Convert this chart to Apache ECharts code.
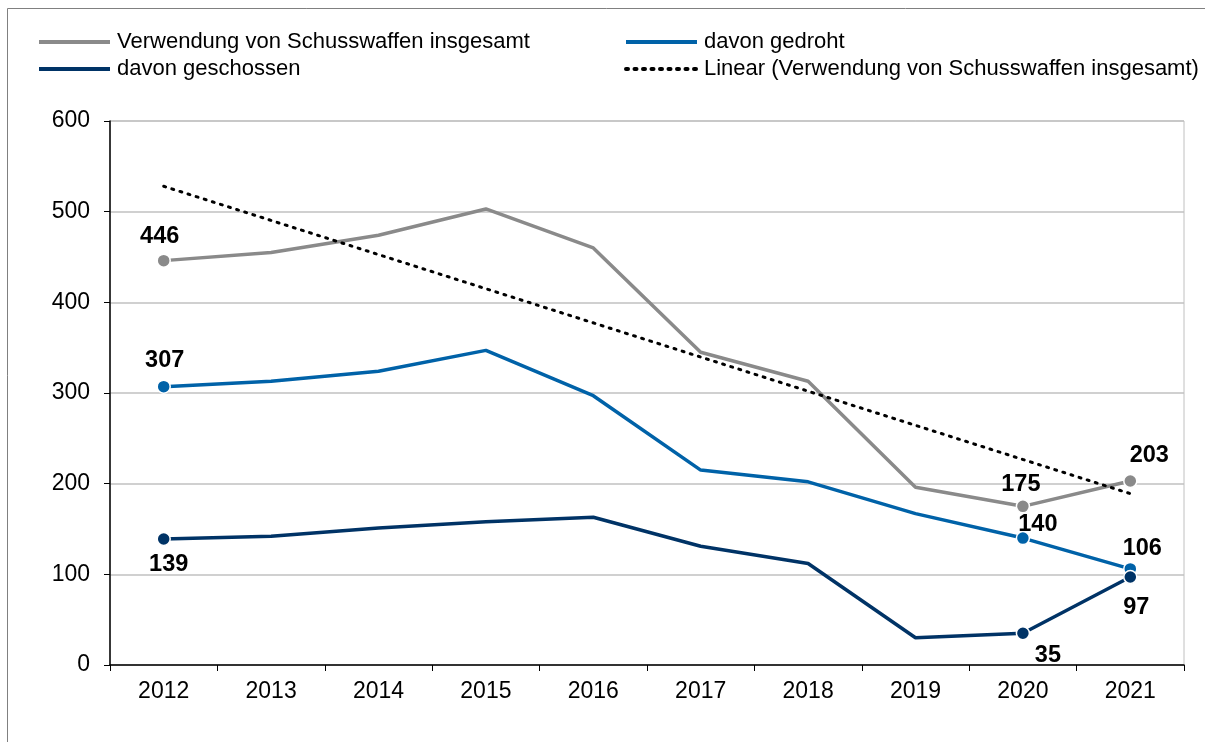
<!DOCTYPE html>
<html>
<head>
<meta charset="utf-8">
<script src="https://cdn.jsdelivr.net/npm/echarts@6/dist/echarts.min.js"></script>
<style>
  html, body { margin: 0; padding: 0; background: #fff; }
  #chart { width: 1205px; height: 742px; }
</style>
</head>
<body>
<div id="chart"></div>
<script>
const YEARS = ["2012", "2013", "2014", "2015", "2016", "2017", "2018", "2019", "2020", "2021"];
const GESAMT = [446, 455, 474, 503, 460, 345, 313, 196, 175, 203];
const GEDROHT = [307, 313, 324, 347, 297, 215, 202, 167, 140, 106];
const GESCHOSSEN = [139, 142, 151, 158, 163, 131, 112, 30, 35, 97];
// trend line endpoints
const TREND = [[0, 528], [9, 189]];

const NAMES = {
  gesamt: "Verwendung von Schusswaffen insgesamt",
  gedroht: "davon gedroht",
  geschossen: "davon geschossen",
  trend: "Linear (Verwendung von Schusswaffen insgesamt)",
};
const COLORS = { gesamt: "#8a8a8a", gedroht: "#0062a8", geschossen: "#003366" };
const FONT = "Liberation Sans, Arial, sans-serif";

// which points get a marker + label, and where the label sits
const MARKS = {
  gesamt: { 0: [-4, -24], 8: [-2, -22], 9: [19, -25] },
  gedroht: { 0: [1, -26], 8: [15, -14], 9: [12, -20] },
  geschossen: { 0: [5, 26], 8: [25, 22], 9: [6, 30] },
};

function pts(key, values) {
  return values.map((v, i) => {
    const m = MARKS[key][i];
    if (!m) return v;
    return {
      value: v,
      symbol: "circle",
      symbolSize: 13,
      label: {
        show: true,
        position: "inside",
        offset: m,
        fontSize: 23.5,
        fontWeight: "bold",
        color: "#000",
        fontFamily: FONT,
      },
    };
  });
}

function lineSeries(key, values) {
  const color = COLORS[key];
  return {
    name: NAMES[key],
    type: "line",
    data: pts(key, values),
    symbol: "none",
    lineStyle: { width: 3.5, color },
    itemStyle: { color, borderColor: "#fff", borderWidth: 1.5 },
    z: 3,
    animation: false,
  };
}

const chart = echarts.init(document.getElementById("chart"));
const legendBase = {
  orient: "vertical",
  top: 26,
  itemWidth: 71,
  itemHeight: 14,
  itemGap: 5,
  itemStyle: { opacity: 0 },
  lineStyle: { width: 4 },
  textStyle: { fontSize: 22, color: "#000", fontFamily: FONT, padding: [0, 0, 0, 2] },
};

chart.setOption({
  animation: false,
  textStyle: { fontFamily: FONT },
  grid: {
    left: 110, right: 21, top: 121, bottom: 77,
    show: true, borderColor: "#c0c0c0", borderWidth: 1,
  },
  legend: [
    Object.assign({}, legendBase, { left: 32, data: [NAMES.gesamt, NAMES.geschossen] }),
    Object.assign({}, legendBase, { left: 619, data: [NAMES.gedroht, NAMES.trend] }),
  ],
  xAxis: {
    type: "category",
    data: YEARS,
    boundaryGap: true,
    axisLine: { lineStyle: { color: "#000", width: 1.5 } },
    axisTick: { show: true, length: 6, lineStyle: { color: "#000" } },
    axisLabel: { fontSize: 23, color: "#000", margin: 15, fontFamily: FONT },
  },
  yAxis: {
    type: "value",
    min: 0, max: 600, interval: 100,
    axisLine: { show: true, lineStyle: { color: "#000", width: 1.5 } },
    axisTick: { show: true, inside: false, length: 6, lineStyle: { color: "#000" } },
    axisLabel: { fontSize: 23, color: "#000", margin: 20, fontFamily: FONT },
    splitLine: { lineStyle: { color: "#c0c0c0", width: 1.5 } },
  },
  series: [
    lineSeries("gesamt", GESAMT),
    lineSeries("gedroht", GEDROHT),
    lineSeries("geschossen", GESCHOSSEN),
    {
      name: NAMES.trend,
      type: "line",
      data: TREND,
      symbol: "none",
      lineStyle: { color: "#000", width: 3, type: [2, 6.5], cap: "round" },
      itemStyle: { color: "#000" },
      z: 4,
    },
  ],
  graphic: [
    { type: "line", shape: { x1: 7.5, y1: 8.5, x2: 1205, y2: 8.5 }, style: { stroke: "#808080", lineWidth: 1 } },
    { type: "line", shape: { x1: 7.5, y1: 8.5, x2: 7.5, y2: 742 }, style: { stroke: "#808080", lineWidth: 1 } },
  ],
});
</script>
</body>
</html>
